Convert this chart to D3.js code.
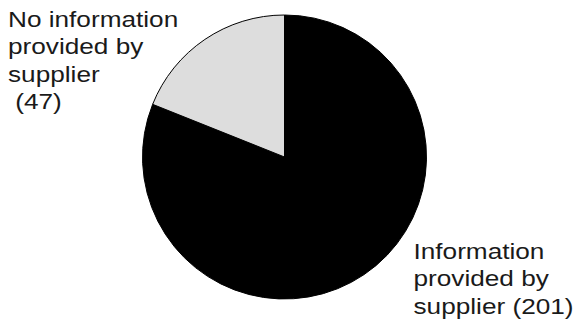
<!DOCTYPE html>
<html>
<head>
<meta charset="utf-8">
<script src="https://cdn.jsdelivr.net/npm/d3@7"></script>
<style>
  body { margin: 0; background: #fff; }
  svg { display: block; }
</style>
</head>
<body>
<div id="chart"></div>
<script>
// slice data, in drawing order (clockwise from 12 o'clock)
const categories = ["Information provided by supplier", "No information provided by supplier"];
const values = [201, 47];
const labelLines = [
    ["Information", "provided by", "supplier (201)"],
    ["No information", "provided by", "supplier", " (47)"]
];
const colors = ["#000000", "#dddddd"];

const width = 578, height = 328;
const cx = 284.5, cy = 157, radius = 142;

const svg = d3.select("#chart").append("svg").attr("width", width).attr("height", height);

const pie = d3.pie().sort(null).value(d => d.value);
const arc = d3.arc().innerRadius(0).outerRadius(radius);

const slices = pie(categories.map((c, i) => ({ name: c, value: values[i], color: colors[i] })));

const g = svg.append("g").attr("transform", `translate(${cx},${cy})`);
g.selectAll("path")
    .data(slices)
    .enter()
    .append("path")
    .attr("d", arc)
    .attr("fill", d => d.data.color)
    .attr("stroke", "#000")
    .attr("stroke-width", 1);

// labels: text is drawn a bit wider than tall in the original
const fontSize = 22, lineH = 27.6, stretch = 1.19;
const labelPos = [
    { x: 413.5, y: 258.5 },
    { x: 8, y: 26.5 }
];

labelLines.forEach((lines, i) => {
    const lg = svg.append("g")
        .attr("transform", `translate(${labelPos[i].x},${labelPos[i].y}) scale(${stretch},1)`);
    lg.selectAll("text")
        .data(lines)
        .enter()
        .append("text")
        .attr("x", 0)
        .attr("y", (d, j) => j * lineH)
        .attr("font-family", "Liberation Sans, Arial, sans-serif")
        .attr("font-size", fontSize)
        .attr("fill", "#1a1a1a")
        .attr("xml:space", "preserve")
        .style("white-space", "pre")
        .text(d => d);
});
</script>
</body>
</html>
